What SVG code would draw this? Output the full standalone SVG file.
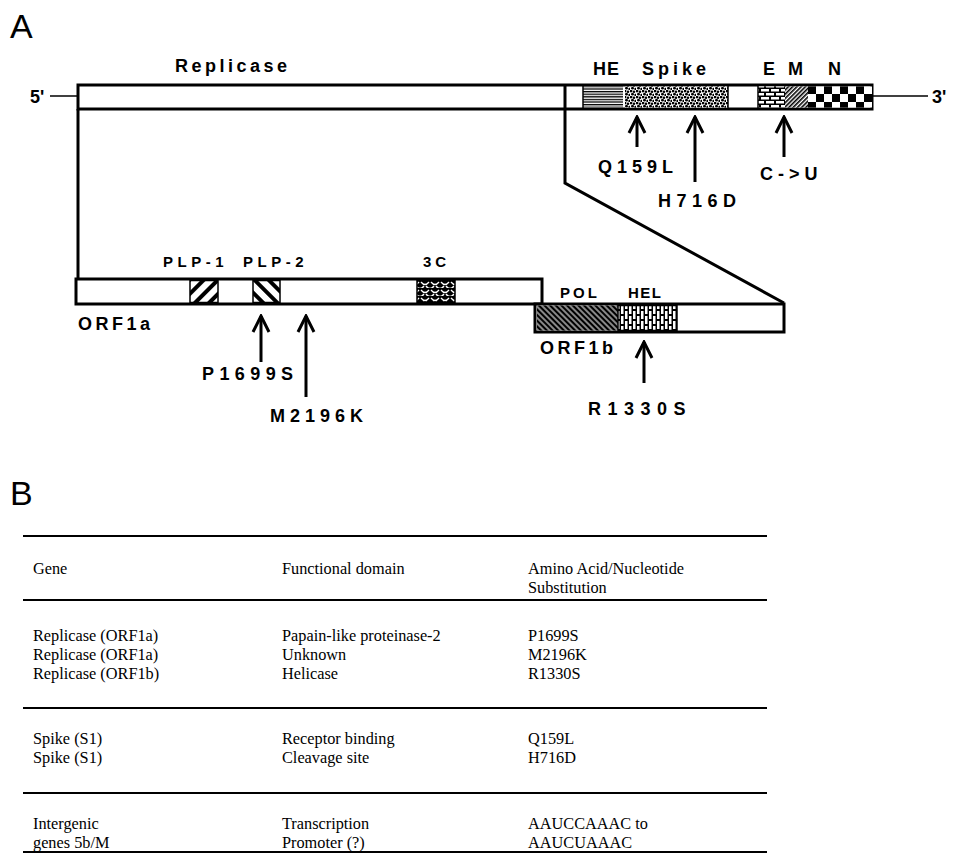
<svg xmlns="http://www.w3.org/2000/svg" width="963" height="856" viewBox="0 0 963 856">
<style>
.box{fill:#fff;stroke:#000;stroke-width:3}
.seg{stroke:#000;stroke-width:1.5}
.lbl{font-family:"Liberation Sans",Arial,sans-serif;font-weight:bold;fill:#000}
.big{font-size:18px}
.sm{font-size:15px}
.pan{font-family:"Liberation Sans",Arial,sans-serif;font-size:34px;fill:#000}
.tt{font-family:"Liberation Serif","Times New Roman",serif;font-size:16.3px;fill:#000}
.thick{fill:none;stroke:#000;stroke-width:3}
.thin{fill:none;stroke:#000;stroke-width:1.5}
.arr{fill:none;stroke:#000;stroke-width:3;marker-end:url(#ah)}
.rule{stroke:#000;stroke-width:2}
</style>
<defs>
<marker id="ah" markerUnits="userSpaceOnUse" markerWidth="20" markerHeight="20" viewBox="0 0 20 20" refX="18" refY="10" orient="auto">
<path d="M2,2 L18,10 L2,18" fill="none" stroke="#000" stroke-width="3"/>
</marker>
<pattern id="pHE" width="4" height="2.6" patternUnits="userSpaceOnUse">
<rect width="4" height="2.6" fill="#fff"/><rect y="0" width="4" height="1.3" fill="#000"/>
</pattern>
<pattern id="pSpike" width="6" height="6" patternUnits="userSpaceOnUse">
<rect width="6" height="6" fill="#fff"/>
<circle cx="1" cy="1" r="1.4" fill="#000"/><circle cx="4" cy="1.8" r="1.3" fill="#000"/>
<circle cx="2.5" cy="4.2" r="1.4" fill="#000"/><circle cx="5.5" cy="5" r="1.2" fill="#000"/>
</pattern>
<pattern id="pBrick" width="10" height="8" patternUnits="userSpaceOnUse">
<rect width="10" height="8" fill="#000"/>
<rect x="1" y="1" width="8" height="2.5" fill="#fff"/>
<rect x="6" y="5" width="8" height="2.5" fill="#fff"/>
<rect x="-4" y="5" width="8" height="2.5" fill="#fff"/>
</pattern>
<pattern id="pM" width="3" height="3" patternUnits="userSpaceOnUse" patternTransform="rotate(45)">
<rect width="3" height="3" fill="#fff"/><rect width="1.6" height="3" fill="#000"/>
</pattern>
<pattern id="pN" width="16" height="16" patternUnits="userSpaceOnUse" x="808" y="86">
<rect width="16" height="16" fill="#fff"/>
<rect width="8" height="8" fill="#000"/><rect x="8" y="8" width="8" height="8" fill="#000"/>
</pattern>
<pattern id="pP1" width="10" height="10" patternUnits="userSpaceOnUse" patternTransform="rotate(45)">
<rect width="10" height="10" fill="#fff"/><rect width="4" height="10" fill="#000"/>
</pattern>
<pattern id="pP2" width="10" height="10" patternUnits="userSpaceOnUse" patternTransform="rotate(-45)">
<rect width="10" height="10" fill="#fff"/><rect width="4" height="10" fill="#000"/>
</pattern>
<pattern id="p3C" width="10" height="8" patternUnits="userSpaceOnUse">
<rect width="10" height="8" fill="#000"/>
<path d="M1,2 Q5,7 9,2" fill="none" stroke="#fff" stroke-width="1.3"/>
<path d="M-4,6 Q0,11 4,6 M6,6 Q10,11 14,6" fill="none" stroke="#fff" stroke-width="1.3"/>
</pattern>
<pattern id="pPOL" width="4" height="4" patternUnits="userSpaceOnUse" patternTransform="rotate(-45)">
<rect width="4" height="4" fill="#888"/><rect width="2" height="4" fill="#000"/>
</pattern>
<pattern id="pHEL" width="8" height="10" patternUnits="userSpaceOnUse">
<rect width="8" height="10" fill="#000"/>
<rect x="1" y="1" width="2.5" height="8" fill="#fff"/>
<rect x="5" y="-4" width="2.5" height="8" fill="#fff"/>
<rect x="5" y="6" width="2.5" height="8" fill="#fff"/>
</pattern>
</defs>
<rect width="963" height="856" fill="#fff"/>

<text class="pan" x="10" y="38">A</text>
<text class="pan" x="10" y="505">B</text>

<g id="genome">
<rect class="box" x="78" y="85" width="794" height="24"/>
<rect x="583" y="86.5" width="40" height="21" fill="url(#pHE)"/>
<rect x="625" y="86.5" width="103" height="21" fill="url(#pSpike)"/>
<rect x="758" y="86.5" width="27" height="21" fill="url(#pBrick)"/>
<rect x="785" y="86.5" width="23" height="21" fill="url(#pM)"/>
<rect x="808" y="86.5" width="64" height="21" fill="url(#pN)"/>
<line class="seg" x1="583" y1="85" x2="583" y2="109"/>
<line class="seg" x1="728" y1="85" x2="728" y2="109"/>
<line class="seg" x1="758" y1="85" x2="758" y2="109"/>
<line class="thin" x1="50" y1="96" x2="78" y2="96"/>
<line class="thin" x1="872" y1="96" x2="928" y2="96"/>
<text class="lbl big" x="30" y="103">5'</text>
<text class="lbl big" x="932" y="103">3'</text>
<text class="lbl big" x="175" y="72" letter-spacing="3.5">Replicase</text>
<text class="lbl big" x="593" y="75" letter-spacing="1">HE</text>
<text class="lbl big" x="642" y="75" letter-spacing="4">Spike</text>
<text class="lbl big" x="763" y="75">E</text>
<text class="lbl big" x="788" y="75">M</text>
<text class="lbl big" x="828" y="75">N</text>
</g>

<g id="orf1a">
<rect class="box" x="76" y="279" width="466" height="25"/>
<rect x="190" y="280.5" width="28" height="22" fill="url(#pP1)" class="seg"/>
<rect x="253" y="280.5" width="27" height="22" fill="url(#pP2)" class="seg"/>
<rect x="417" y="280.5" width="38" height="22" fill="url(#p3C)" class="seg"/>
<text class="lbl sm" x="163" y="267" letter-spacing="4.5">PLP-1</text>
<text class="lbl sm" x="243" y="267" letter-spacing="4.5">PLP-2</text>
<text class="lbl sm" x="423" y="267" letter-spacing="4">3C</text>
<text class="lbl big" x="78" y="330" letter-spacing="3.5">ORF1a</text>
</g>

<g id="orf1b">
<rect class="box" x="535" y="304" width="249" height="28"/>
<rect x="537" y="305.5" width="81" height="25" fill="url(#pPOL)"/>
<rect x="618" y="305.5" width="59" height="25" fill="url(#pHEL)" class="seg"/>
<text class="lbl sm" x="560" y="298" letter-spacing="3">POL</text>
<text class="lbl sm" x="628" y="298" letter-spacing="1.5">HEL</text>
<text class="lbl big" x="540" y="354" letter-spacing="3.5">ORF1b</text>
</g>

<g id="mutations">
<text class="lbl big" x="598" y="173" letter-spacing="5">Q159L</text>
<text class="lbl big" x="658" y="207" letter-spacing="5.5">H716D</text>
<text class="lbl big" x="760" y="180" letter-spacing="5">C-&gt;U</text>
<text class="lbl big" x="202" y="380" letter-spacing="5.4">P1699S</text>
<text class="lbl big" x="270" y="422" letter-spacing="5">M2196K</text>
<text class="lbl big" x="588" y="415" letter-spacing="6.5">R1330S</text>
</g>

<g id="connectors">
<line class="thick" x1="78" y1="109" x2="78" y2="279"/>
<polyline class="thick" points="565,85 565,183 784,303"/>
<line class="arr" x1="637" y1="147" x2="637" y2="117"/>
<line class="arr" x1="695" y1="182" x2="695" y2="117"/>
<line class="arr" x1="784" y1="157" x2="784" y2="117"/>
<line class="arr" x1="261" y1="362" x2="261" y2="316"/>
<line class="arr" x1="306" y1="397" x2="306" y2="316"/>
<line class="arr" x1="644" y1="383" x2="644" y2="342"/>
</g>

<g id="table">
<line class="rule" x1="23" y1="536" x2="767" y2="536"/>
<line class="rule" x1="23" y1="600" x2="767" y2="600"/>
<line class="rule" x1="23" y1="708" x2="767" y2="708"/>
<line class="rule" x1="23" y1="793" x2="767" y2="793"/>
<line class="rule" x1="23" y1="852" x2="767" y2="852"/>
<text class="tt" x="33" y="574">Gene</text>
<text class="tt" x="282" y="574">Functional domain</text>
<text class="tt" x="528" y="574">Amino Acid/Nucleotide</text>
<text class="tt" x="528" y="593">Substitution</text>
<text class="tt" x="33" y="641">Replicase (ORF1a)</text>
<text class="tt" x="33" y="660">Replicase (ORF1a)</text>
<text class="tt" x="33" y="679">Replicase (ORF1b)</text>
<text class="tt" x="282" y="641">Papain-like proteinase-2</text>
<text class="tt" x="282" y="660">Unknown</text>
<text class="tt" x="282" y="679">Helicase</text>
<text class="tt" x="528" y="641">P1699S</text>
<text class="tt" x="528" y="660">M2196K</text>
<text class="tt" x="528" y="679">R1330S</text>
<text class="tt" x="33" y="744">Spike (S1)</text>
<text class="tt" x="33" y="763">Spike (S1)</text>
<text class="tt" x="282" y="744">Receptor binding</text>
<text class="tt" x="282" y="763">Cleavage site</text>
<text class="tt" x="528" y="744">Q159L</text>
<text class="tt" x="528" y="763">H716D</text>
<text class="tt" x="33" y="829">Intergenic</text>
<text class="tt" x="33" y="848">genes 5b/M</text>
<text class="tt" x="282" y="829">Transcription</text>
<text class="tt" x="282" y="848">Promoter (?)</text>
<text class="tt" x="528" y="829">AAUCCAAAC to</text>
<text class="tt" x="528" y="848">AAUCUAAAC</text>
</g>
</svg>
